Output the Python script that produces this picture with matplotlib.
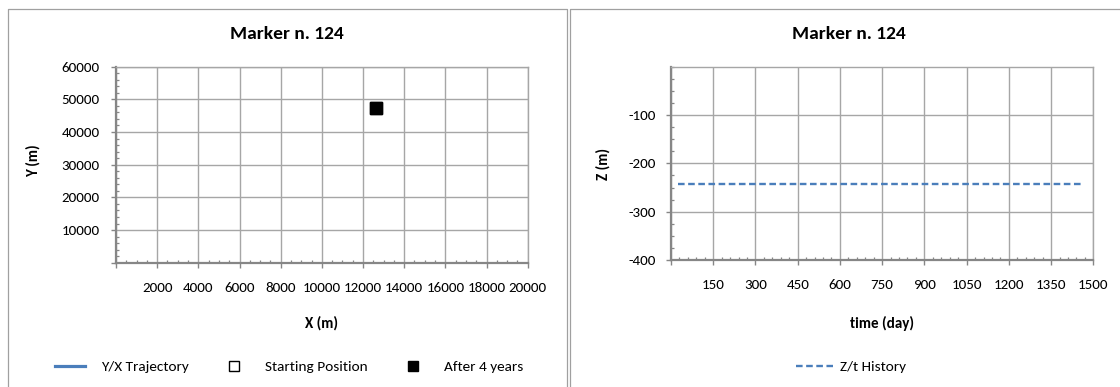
import matplotlib
matplotlib.use("Agg")
import matplotlib.pyplot as plt
from matplotlib.lines import Line2D
from matplotlib.ticker import MultipleLocator, FixedLocator

plt.rcParams['font.family'] = ['Carlito', 'Lato', 'DejaVu Sans']

# data
marker_name = "Marker n. 124"
traj_x = [12630, 12630]
traj_y = [47450, 47450]
start_x, start_y = [12630], [47450]
end_x, end_y = [12630], [47450]

time_day = [25, 365, 730, 1095, 1456]
z_m = [-242.7, -242.7, -242.7, -242.7, -242.7]

x_ticks = list(range(2000, 20001, 2000))
y_ticks = list(range(10000, 60001, 10000))
t_ticks = list(range(150, 1501, 150))
z_ticks = [-100, -200, -300, -400]

W, H = 1120, 387
blue = "#4a7ebb"
grid_c = "#a6a6a6"
axis_c = "#868686"

fig = plt.figure(figsize=(W / 100, H / 100), dpi=100)


def px_axes(x0, y0, x1, y1):
    return fig.add_axes([x0 / W, 1 - y1 / H, (x1 - x0) / W, (y1 - y0) / H])


def fx(x):
    return x / W


def fy(y):
    return 1 - y / H


# panel borders
for xs, ys in [([7.5, 7.5, 566.5, 566.5], [390, 8.5, 8.5, 390]),
               ([569.5, 569.5, 1125], [390, 8.5, 8.5])]:
    fig.add_artist(Line2D([fx(v) for v in xs], [fy(v) for v in ys],
                          color="#a0a0a0", lw=0.9))


def style(ax, pad_x, pad_y):
    ax.grid(True, which="major", color=grid_c, lw=1.0)
    ax.set_axisbelow(True)
    for s in ["top", "right"]:
        ax.spines[s].set_color(grid_c)
        ax.spines[s].set_linewidth(1.0)
    for s in ["left", "bottom"]:
        ax.spines[s].set_color(axis_c)
        ax.spines[s].set_linewidth(1.6)
    ax.tick_params(which="major", direction="out", length=3.6, width=1.0,
                   color=axis_c, labelsize=10.8, labelcolor="black")
    ax.tick_params(axis="x", which="major", pad=pad_x)
    ax.tick_params(axis="y", which="major", pad=pad_y)
    ax.tick_params(which="minor", direction="in", length=2.2, width=0.9,
                   color=axis_c)
    ax.tick_params(top=False, right=False, which="both")


# left chart: Y/X
ax1 = px_axes(116, 66.7, 527.7, 262.7)
ax1.plot(traj_x, traj_y, color=blue, lw=2.3, zorder=3)
ax1.plot(start_x, start_y, "s", ms=8.6, mfc="white", mec="black", mew=1.0, zorder=4)
ax1.plot(end_x, end_y, "s", ms=8.6, mfc="black", mec="black", zorder=5)
ax1.set_xlim(0, 20000)
ax1.set_ylim(0, 60000)
ax1.xaxis.set_major_locator(FixedLocator([0] + x_ticks))
ax1.yaxis.set_major_locator(FixedLocator([0] + y_ticks))
ax1.set_xticklabels([""] + [str(v) for v in x_ticks])
ax1.set_yticklabels([""] + [str(v) for v in y_ticks])
ax1.xaxis.set_minor_locator(MultipleLocator(500))
ax1.yaxis.set_minor_locator(MultipleLocator(2000))
style(ax1, 10.2, 8.2)

# right chart: Z/t
ax2 = px_axes(671, 66.7, 1093.3, 260)
ax2.plot(time_day, z_m, color=blue, lw=1.7, dashes=(2.8, 1.5), zorder=3)
ax2.set_xlim(0, 1500)
ax2.set_ylim(-400, 0)
ax2.xaxis.set_major_locator(FixedLocator([0] + t_ticks))
ax2.yaxis.set_major_locator(FixedLocator(z_ticks))
ax2.set_xticklabels([""] + [str(v) for v in t_ticks])
ax2.set_yticklabels([str(v) for v in z_ticks])
ax2.xaxis.set_minor_locator(MultipleLocator(30))
ax2.yaxis.set_minor_locator(MultipleLocator(25))
style(ax2, 10.2, 7.5)

# titles and axis labels
fig.text(fx(287), fy(34), marker_name, ha="center", va="center",
         fontsize=14, fontweight="bold")
fig.text(fx(849), fy(34), marker_name, ha="center", va="center",
         fontsize=14, fontweight="bold")
fig.text(fx(321.8), fy(323), "X (m)", ha="center", va="center",
         fontsize=10.8, fontweight="bold")
fig.text(fx(882), fy(323), "time (day)", ha="center", va="center",
         fontsize=10.8, fontweight="bold")
fig.text(fx(33), fy(161), "Y (m)", ha="center", va="center", rotation=90,
         fontsize=10.8, fontweight="bold")
fig.text(fx(603), fy(164), "Z (m)", ha="center", va="center", rotation=90,
         fontsize=10.8, fontweight="bold")

# legends
h1 = [Line2D([], [], color=blue, lw=2.3),
      Line2D([], [], ls="none", marker="s", ms=7, mfc="white", mec="black"),
      Line2D([], [], ls="none", marker="s", ms=7, mfc="black", mec="black")]
fig.legend(h1, ["Y/X Trajectory", "Starting Position", "After 4 years"],
           loc="center", bbox_to_anchor=(fx(289), fy(367)), ncol=3,
           frameon=False, fontsize=11, handlelength=2.0, handletextpad=1.0,
           columnspacing=2.0)
h2 = [Line2D([], [], color=blue, lw=1.7, dashes=(2.8, 1.5))]
fig.legend(h2, ["Z/t History"], loc="center", bbox_to_anchor=(fx(851), fy(367)),
           frameon=False, fontsize=11, handlelength=2.4, handletextpad=0.5)

fig.savefig("out.png", dpi=100)
